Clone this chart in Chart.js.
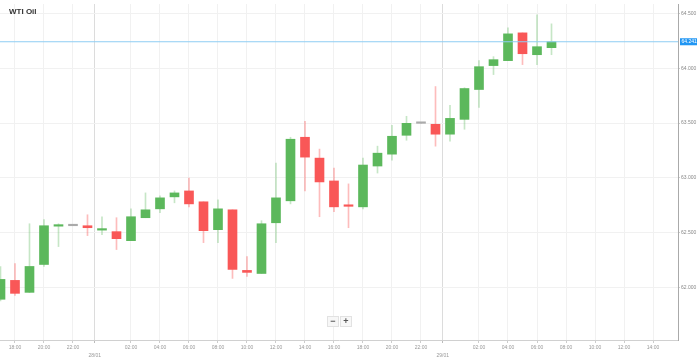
<!DOCTYPE html>
<html><head><meta charset="utf-8">
<script src="https://cdn.jsdelivr.net/npm/chart.js@4.4.1/dist/chart.umd.min.js"></script>
<style>
html,body{margin:0;padding:0;background:#fff;}
#wrap{position:relative;width:699px;height:359px;overflow:hidden;}
#c{position:absolute;left:0;top:0;}
#title{position:absolute;left:9px;top:7px;font:bold 8px "Liberation Sans",Arial,sans-serif;color:#333;}
#zoom{position:absolute;left:327px;top:316px;display:flex;gap:1px;}
#zoom span{display:block;width:10px;height:9px;border:1px solid #e2e2e2;background:#f7f7f7;color:#555;font:bold 9px/9px "Liberation Sans",sans-serif;text-align:center;}
</style></head><body>
<div id="wrap"><canvas id="c" width="699" height="359"></canvas>
<div id="title">WTI Oil</div>
<div id="zoom"><span>−</span><span>+</span></div></div>
<script>
// hours since 27/01 00:00 (hourly candles)
const hours = [17,18,19,20,21,22,23,24,25,26,27,28,29,30,31,32,33,34,35,36,37,38,39,40,41,42,43,44,45,46,47,48,49,50,51,52,53,54,55];
const opens = [61.895,62.067,61.958,62.212,62.561,62.565,62.565,62.525,62.511,62.429,62.638,62.719,62.828,62.882,62.783,62.529,62.710,62.158,62.130,62.592,62.792,63.371,63.181,62.973,62.751,62.737,63.109,63.217,63.389,63.498,63.489,63.399,63.534,63.806,64.024,64.069,64.322,64.123,64.187];
const highs = [62.194,62.221,62.583,62.620,62.583,62.565,62.665,62.647,62.638,62.719,62.864,62.837,62.882,63.000,62.783,62.801,62.710,62.284,62.611,63.136,63.371,63.516,63.263,63.091,62.946,63.181,63.290,63.480,63.562,63.498,63.833,63.661,63.822,64.069,64.105,64.368,64.322,64.486,64.404];
const lows = [61.880,61.931,61.955,62.194,62.375,62.565,62.475,62.484,62.348,62.429,62.638,62.683,62.774,62.737,62.411,62.411,62.085,62.103,62.130,62.411,62.764,62.882,62.647,62.692,62.547,62.719,63.045,63.163,63.344,63.498,63.290,63.335,63.444,63.643,63.942,64.069,64.033,64.033,64.123];
const closes = [62.076,61.949,62.194,62.565,62.568,62.565,62.547,62.529,62.447,62.647,62.710,62.819,62.864,62.764,62.520,62.719,62.167,62.140,62.583,62.819,63.353,63.190,62.964,62.737,62.742,63.118,63.226,63.380,63.498,63.498,63.399,63.543,63.815,64.014,64.078,64.313,64.132,64.196,64.241];
const lastPrice = 64.241;
const xTickValues = [18,20,22,23.5,26,28,30,32,34,36,38,40,42,44,46,47.5,50,52,54,56,58,60,62];
const xTickLabels = ['18:00','20:00','22:00',['','28/01'],'02:00','04:00','06:00','08:00','10:00','12:00','14:00','16:00','18:00','20:00','22:00',['','29/01'],'02:00','04:00','06:00','08:00','10:00','12:00','14:00'];
const daySeparators = [23.5,47.5];
const yTickValues = [62.0,62.5,63.0,63.5,64.0,64.5];

const xMin = 16.966, xMax = 63.724, yMin = 61.524, yMax = 64.585;

function dir(i){ return closes[i] > opens[i] ? 1 : (closes[i] < opens[i] ? -1 : 0); }
const bodyCol = i => dir(i) > 0 ? '#5cb85c' : (dir(i) < 0 ? '#f95757' : '#aaaaaa');
const wickCol = i => dir(i) > 0 ? 'rgba(92,184,92,0.35)' : (dir(i) < 0 ? 'rgba(249,87,87,0.4)' : 'rgba(170,170,170,0.5)');

const priceLabel = {
  id: 'priceLabel',
  afterDraw(chart){
    const ys = chart.scales.y;
    const y = ys.getPixelForValue(lastPrice);
    const x0 = chart.chartArea.right + 2;
    const ctx = chart.ctx;
    ctx.save();
    ctx.fillStyle = '#2196f3';
    ctx.fillRect(x0, y - 3.5, 17, 7);
    ctx.fillStyle = '#fff';
    ctx.font = '5px "Liberation Sans", Arial, sans-serif';
    ctx.textBaseline = 'middle';
    ctx.fillText(lastPrice.toFixed(3), x0 + 1.5, y + 0.3);
    ctx.restore();
  }
};

new Chart(document.getElementById('c'), {
  type: 'bar',
  data: {
    datasets: [
      {
        type: 'line',
        data: [{x: xMin, y: lastPrice}, {x: xMax, y: lastPrice}],
        borderColor: '#8ecdf3', borderWidth: 1, pointRadius: 0, order: 0
      },
      {
        data: hours.map((h, i) => ({x: h, y: [opens[i], closes[i]]})),
        backgroundColor: ctx => bodyCol(ctx.dataIndex),
        borderWidth: 0, barThickness: 9, minBarLength: 1.5, grouped: false, order: 1
      },
      {
        data: hours.map((h, i) => ({x: h, y: [lows[i], highs[i]]})),
        backgroundColor: ctx => wickCol(ctx.dataIndex),
        borderWidth: 0, barThickness: 1, grouped: false, order: 2
      }
    ]
  },
  options: {
    responsive: false, animation: false, devicePixelRatio: 1,
    layout: {padding: {top: 2, left: 0, right: 0, bottom: 0}},
    plugins: {legend: {display: false}, tooltip: {enabled: false}},
    scales: {
      x: {
        type: 'linear', min: xMin, max: xMax, offset: false,
        afterBuildTicks: s => { s.ticks = xTickValues.map(v => ({value: v})); },
        afterFit: s => { s.height = 19; },
        ticks: {
          autoSkip: false, maxRotation: 0, padding: 1, color: '#999',
          font: {size: 5, family: '"Liberation Sans", Arial, sans-serif', lineHeight: 1.5},
          callback: (v, i) => xTickLabels[i]
        },
        grid: {
          offset: false, tickLength: 3,
          color: c => (c.tick && daySeparators.includes(c.tick.value)) ? '#dcdcdc' : '#f1f1f1',
          tickColor: c => (c.tick && daySeparators.includes(c.tick.value)) ? '#bbb' : '#ccc'
        },
        border: {color: '#d0d0d0'}
      },
      y: {
        position: 'right', min: yMin, max: yMax,
        afterBuildTicks: s => { s.ticks = yTickValues.map(v => ({value: v})); },
        afterFit: s => { s.width = 21; },
        ticks: {
          padding: 1, color: '#888',
          font: {size: 5, family: '"Liberation Sans", Arial, sans-serif'},
          callback: v => Number(v).toFixed(3)
        },
        grid: {color: '#f1f1f1', tickLength: 2, tickColor: '#ccc'},
        border: {color: '#aaa'}
      }
    }
  },
  plugins: [priceLabel]
});
</script>
</body></html>
